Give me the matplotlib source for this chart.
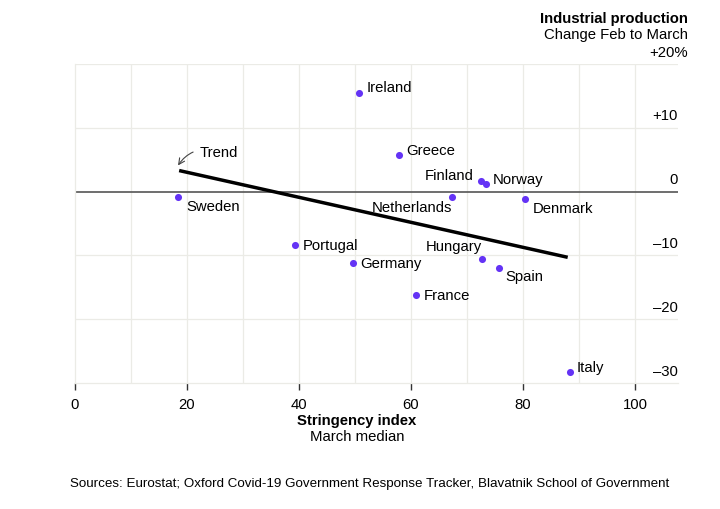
import matplotlib.pyplot as plt

plt.rcParams['font.family'] = ['Liberation Sans', 'DejaVu Sans']

countries = ["Ireland", "Greece", "Finland", "Norway", "Netherlands", "Denmark", "Sweden",
             "Portugal", "Germany", "Hungary", "Spain", "France", "Italy"]
stringency = [50.7, 57.9, 72.5, 73.4, 67.3, 80.4, 18.4, 39.3, 49.6, 72.7, 75.7, 60.9, 88.4]
production = [15.5, 5.8, 1.7, 1.25, -0.8, -1.1, -0.8, -8.3, -11.25, -10.5, -11.9, -16.25, -28.3]

trend_x = [18.6, 88.0]
trend_y = [3.3, -10.3]

# label offsets in pixels (dx, dy, ha)
offsets = {
    "Ireland": (8, 5, 'left'), "Greece": (7, 4, 'left'), "Finland": (-7, 5, 'right'),
    "Norway": (7, 4, 'left'), "Netherlands": (0, -11, 'right'), "Denmark": (8, -10, 'left'),
    "Sweden": (8, -10, 'left'), "Portugal": (8, -1, 'left'), "Germany": (8, -1, 'left'),
    "Hungary": (0, 12, 'right'), "Spain": (7, -9, 'left'), "France": (8, -1, 'left'),
    "Italy": (7, 4, 'left'),
}

fig = plt.figure(figsize=(7.2, 5.09), dpi=100)
ax = fig.add_axes([75 / 720, 1 - 383 / 509, 603 / 720, 319 / 509])
ax.set_xlim(0, 107.7)
ax.set_ylim(-30, 20)

grid_c = '#ebebe6'
for gx in range(10, 101, 10):
    ax.axvline(gx, color=grid_c, lw=0.9, zorder=0)
for gy in [-20, -10, 10, 20]:
    ax.axhline(gy, color=grid_c, lw=0.9, zorder=0)
ax.axhline(0, color='#555555', lw=1.2, zorder=1)

for s in ['top', 'right']:
    ax.spines[s].set_visible(False)
ax.spines['bottom'].set_color(grid_c)
ax.spines['bottom'].set_linewidth(0.9)
ax.spines['left'].set_color(grid_c)
ax.spines['left'].set_linewidth(0.9)

ax.set_xticks(range(0, 101, 20))
ax.tick_params(axis='x', length=5, width=1, color='#333333', labelsize=10.7, pad=5.5)
ax.set_yticks([])

for yv, lab in [(10, '+10'), (0, '0'), (-10, '\u201310'), (-20, '\u201320'), (-30, '\u201330')]:
    ax.text(1.0, yv + 0.7, lab, transform=ax.get_yaxis_transform(), ha='right', va='bottom',
            fontsize=10.7)

ax.plot(trend_x, trend_y, color='black', lw=2.5, solid_capstyle='butt', zorder=3)
ax.annotate('Trend', xy=(trend_x[0] - 0.2, trend_y[0] + 0.8), xytext=(15.7, 9),
            textcoords='offset points', fontsize=10.7, va='center', ha='left',
            arrowprops=dict(arrowstyle='->', color='#444444', lw=0.8,
                            connectionstyle='arc3,rad=0.4', shrinkA=3, shrinkB=0))

ax.scatter(stringency, production, s=26, color='#6433f5', zorder=4, linewidths=0)
for c, x, y in zip(countries, stringency, production):
    dx, dy, ha = offsets[c]
    ax.annotate(c, (x, y), xytext=(dx * 0.72, dy * 0.72), textcoords='offset points',
                ha=ha, va='center', fontsize=10.7, zorder=5)

fig.text(688 / 720, 1 - 19 / 509, 'Industrial production', ha='right', va='center',
         fontsize=10.7, fontweight='bold')
fig.text(688 / 720, 1 - 35 / 509, 'Change Feb to March', ha='right', va='center', fontsize=10.7)
fig.text(688 / 720, 1 - 53 / 509, '+20%', ha='right', va='center', fontsize=10.7)

fig.text(357 / 720, 1 - 421 / 509, 'Stringency index', ha='center', va='center',
         fontsize=10.7, fontweight='bold')
fig.text(357 / 720, 1 - 437 / 509, 'March median', ha='center', va='center', fontsize=10.7)
fig.text(70 / 720, 1 - 484 / 509,
         'Sources: Eurostat; Oxford Covid-19 Government Response Tracker, Blavatnik School of Government',
         ha='left', va='center', fontsize=9.65)

fig.savefig('out.png', dpi=100)
